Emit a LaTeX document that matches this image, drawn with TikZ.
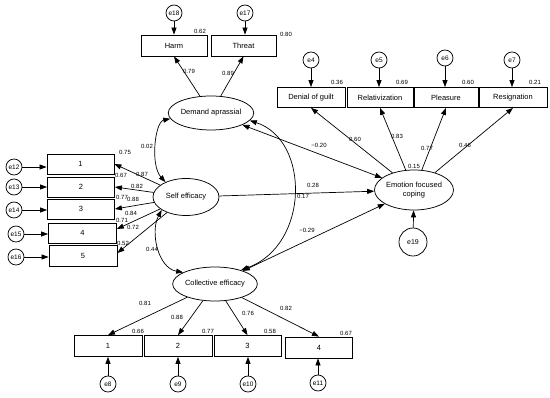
\documentclass[tikz,border=0pt]{standalone}
\usepackage{fontspec}
\setmainfont{Liberation Sans}
\usetikzlibrary{arrows.meta,shapes.geometric}
\begin{document}
\begin{tikzpicture}[x=1pt,y=-1pt,
  every node/.style={font=\fontsize{7.5}{8.5}\selectfont},
  obs/.style={draw, line width=0.8pt, inner sep=0pt, minimum height=20pt},
  lat/.style={draw, ellipse, line width=0.75pt, inner sep=0pt, minimum width=66pt, minimum height=34pt, align=center},
  err/.style={draw, circle, line width=0.75pt, inner sep=0pt, minimum size=16pt, font=\fontsize{6.5}{7}\selectfont},
  num/.style={font=\fontsize{6}{7}\selectfont, inner sep=0pt},
  arr/.style={line width=0.7pt, -{Triangle[length=7pt,width=5pt]}},
  darr/.style={line width=0.7pt, {Triangle[length=7pt,width=5pt]}-{Triangle[length=7pt,width=5pt]}},
]
\useasboundingbox (0,0) rectangle (550,398);
\fill[white] (0,0) rectangle (550,398);
% top left indicators
\node[err] (e18) at (174,13) {e18};
\node[err] (e17) at (245,13) {e17};
\node[obs, minimum width=66pt, minimum height=21pt] (harm) at (174,45.5) {Harm};
\node[obs, minimum width=65pt, minimum height=21pt] (threat) at (243.5,45.5) {Threat};
% top right indicators
\node[err] (e4) at (311,60) {e4};
\node[err] (e5) at (379,60) {e5};
\node[err] (e6) at (445,58) {e6};
\node[err] (e7) at (512,60) {e7};
\node[obs, minimum width=68pt] (denial) at (311,97.5) {Denial of guilt};
\node[obs, minimum width=66pt] (relat) at (380,97.5) {Relativization};
\node[obs, minimum width=64pt] (pleas) at (446,97.5) {Pleasure};
\node[obs, minimum width=68pt] (resig) at (513,97.5) {Resignation};
% left indicators
\node[err] (e12) at (14,167) {e12};
\node[err] (e13) at (14,187) {e13};
\node[err] (e14) at (14,210) {e14};
\node[err] (e15) at (16,234) {e15};
\node[err] (e16) at (16,257) {e16};
\node[obs, minimum width=67pt] (l1) at (80.5,164) {1};
\node[obs, minimum width=67pt] (l2) at (81,187) {2};
\node[obs, minimum width=67pt] (l3) at (81,209) {3};
\node[obs, minimum width=68pt] (l4) at (82.5,233) {4};
\node[obs, minimum width=68pt, minimum height=21pt] (l5) at (83,256) {5};
% latents
\node[lat, minimum width=68pt] (da) at (211,113) {Demand aprassial};
\node[lat, minimum height=37pt] (se) at (186,197) {Self efficacy};
\node[lat] (ce) at (215,284) {Collective efficacy};
\node[lat, minimum height=40pt] (ec) at (414,190) {Emotion focused\\coping};
\node[err, minimum size=28pt, font=\fontsize{7}{8}\selectfont] (e19) at (413,242) {e19};
% bottom indicators
\node[obs, minimum width=68pt, minimum height=21pt] (b1) at (108,346) {1};
\node[obs, minimum width=68pt, minimum height=21pt] (b2) at (178,346) {2};
\node[obs, minimum width=67pt, minimum height=21pt] (b3) at (247.5,346) {3};
\node[obs, minimum width=67pt, minimum height=21pt] (b4) at (319,347.5) {4};
\node[err] (e8) at (108,384) {e8};
\node[err] (e9) at (178,384) {e9};
\node[err] (e10) at (248,384) {e10};
\node[err] (e11) at (318,383) {e11};
% error arrows
\draw[arr] (e18) -- (e18 |- harm.north);
\draw[arr] (e17) -- (e17 |- threat.north);
\draw[arr] (e4) -- (e4 |- denial.north);
\draw[arr] (e5) -- (e5 |- relat.north);
\draw[arr] (e6) -- (e6 |- pleas.north);
\draw[arr] (e7) -- (e7 |- resig.north);
\draw[arr] (e12) -- (e12 -| l1.west);
\draw[arr] (e13) -- (e13 -| l2.west);
\draw[arr] (e14) -- (e14 -| l3.west);
\draw[arr] (e15) -- (e15 -| l4.west);
\draw[arr] (e16) -- (e16 -| l5.west);
\draw[arr] (e8) -- (e8 |- b1.south);
\draw[arr] (e9) -- (e9 |- b2.south);
\draw[arr] (e10) -- (e10 |- b3.south);
\draw[arr] (e11) -- (e11 |- b4.south);
\draw[arr] (e19) -- (ec);
% loadings
\draw[arr] (da) -- (harm.south);
\draw[arr] (da) -- (threat.south);
\draw[arr] (ec) -- (denial.south);
\draw[arr] (ec) -- (relat.south);
\draw[arr] (ec) -- (pleas.south);
\draw[arr] (ec) -- (resig.south);
\draw[arr] (se) -- (l1.east);
\draw[arr] (se) -- (l2.east);
\draw[arr] (se) -- (l3.east);
\draw[arr] (se) -- ([yshift=4pt]l4.east);
\draw[arr] (se) -- ([yshift=3pt]l5.east);
\draw[arr] (ce) -- (b1.north);
\draw[arr] (ce) -- (b2.north);
\draw[arr] (ce) -- (b3.north);
\draw[arr] (ce) -- (b4.north);
% structural
\draw[arr] (se) -- (ec);
\draw[darr] (da) -- (ec);
\draw[darr] (ce) -- (ec);
\draw[darr] (da.188) .. controls (155,122) and (150,165) .. (se.144);
\draw[darr] (se.208) .. controls (150,232) and (158,268) .. (ce.160);
\draw[darr] (da.-11) .. controls (310,140) and (310,245) .. (ce.28);
% numbers
\node[num] (n1) at (200,31) {0.62};
\node[num] (n2) at (286,34) {0.80};
\node[num] (n3) at (189,71) {0.79};
\node[num] (n4) at (228,73) {0.89};
\node[num] (n5) at (337,82) {0.36};
\node[num] (n6) at (402,82) {0.69};
\node[num] (n7) at (468,82) {0.60};
\node[num] (n8) at (535,82) {0.21};
\node[num] (n9) at (355,139) {0.60};
\node[num] (n10) at (397,136) {0.83};
\node[num] (n11) at (427,148) {0.77};
\node[num] (n12) at (465,145) {0.46};
\node[num] (n13) at (414,166) {0.15};
\node[num] (n14) at (319,145) {−0.20};
\node[num] (n15) at (313,185) {0.28};
\node[num] (n16) at (303,196) {0.17};
\node[num] (n17) at (307,230) {−0.29};
\node[num] (n18) at (147,146) {0.02};
\node[num] (n19) at (152,249) {0.44};
\node[num] (n20) at (125,152) {0.75};
\node[num] (n21) at (142,174) {0.87};
\node[num] (n22) at (121,175) {0.67};
\node[num] (n23) at (137,186) {0.82};
\node[num] (n24) at (122,197) {0.77};
\node[num] (n25) at (133,199) {0.88};
\node[num] (n26) at (131,213) {0.84};
\node[num] (n27) at (122,220) {0.71};
\node[num] (n28) at (133,227) {0.72};
\node[num] (n29) at (123,243) {0.52};
\node[num] (n30) at (145,303) {0.81};
\node[num] (n31) at (177,317) {0.88};
\node[num] (n32) at (248,313) {0.76};
\node[num] (n33) at (286,308) {0.82};
\node[num] (n34) at (138,331) {0.66};
\node[num] (n35) at (208,331) {0.77};
\node[num] (n36) at (270,331) {0.58};
\node[num] (n37) at (346,333) {0.67};
\end{tikzpicture}
\end{document}
